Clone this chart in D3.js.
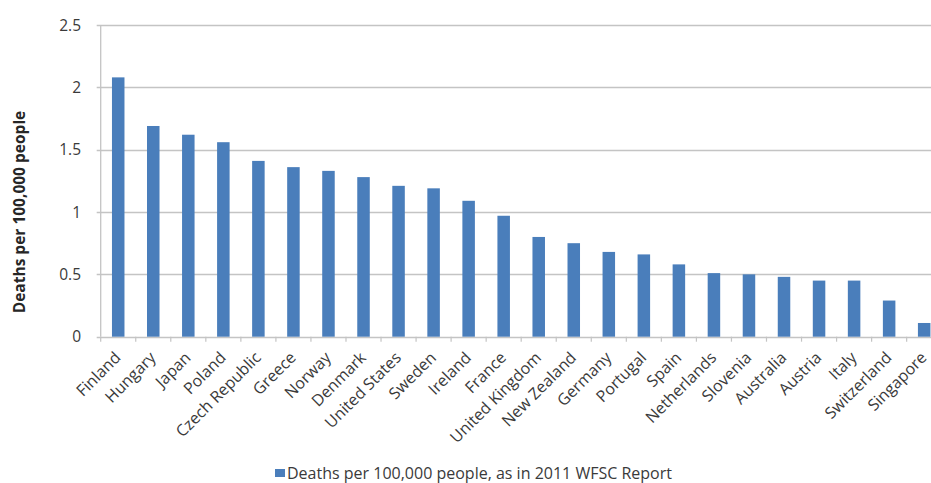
<!DOCTYPE html>
<html>
<head>
<meta charset="utf-8">
<script src="https://cdn.jsdelivr.net/npm/d3@7"></script>
<style>
  html, body { margin: 0; padding: 0; background: #fff; overflow: hidden; }
  svg { display: block; font-family: "Open Sans", Lato, sans-serif; }
</style>
</head>
<body>
<svg id="chart" width="931" height="483"></svg>
<script>
// Road deaths per 100,000 people by country
const countries = [
  "Finland", "Hungary", "Japan", "Poland", "Czech Republic", "Greece",
  "Norway", "Denmark", "United States", "Sweden", "Ireland", "France",
  "United Kingdom", "New Zealand", "Germany", "Portugal", "Spain",
  "Netherlands", "Slovenia", "Australia", "Austria", "Italy",
  "Switzerland", "Singapore"
];
const deaths = [
  2.08, 1.69, 1.62, 1.56, 1.41, 1.36,
  1.33, 1.28, 1.21, 1.19, 1.09, 0.97,
  0.80, 0.75, 0.68, 0.66, 0.58,
  0.51, 0.50, 0.48, 0.45, 0.45,
  0.29, 0.11
];
const yTicks = [0, 0.5, 1, 1.5, 2, 2.5];
const yTitle = "Deaths per 100,000 people";
const seriesName = "Deaths per 100,000 people, as in 2011 WFSC Report";

const svg = d3.select("#chart");
const plotLeft = 100.7, plotRight = 941.7, plotTop = 25, plotBottom = 336.7;
const textColor = "#3a3a3a";

const x = d3.scaleBand()
  .domain(countries)
  .range([plotLeft, plotRight])
  .paddingInner(0.643)
  .paddingOuter(0.3215);

const y = d3.scaleLinear().domain([0, 2.5]).range([plotBottom, plotTop]);

// horizontal gridlines with short ticks to the left of the axis
svg.append("g").selectAll("line")
  .data(yTicks)
  .join("line")
  .attr("x1", plotLeft - 4)
  .attr("x2", plotRight)
  .attr("y1", d => Math.round(y(d)) + 0.5)
  .attr("y2", d => Math.round(y(d)) + 0.5)
  .attr("stroke", "#c4c4c4")
  .attr("stroke-width", 1.3);

// y tick labels
svg.append("g").selectAll("text")
  .data(yTicks)
  .join("text")
  .attr("x", 81)
  .attr("y", d => y(d))
  .attr("dy", "0.36em")
  .attr("text-anchor", "end")
  .attr("font-size", 15.5)
  .attr("fill", textColor)
  .text(d => d3.format("~g")(d));

// vertical axis line
svg.append("line")
  .attr("x1", plotLeft).attr("x2", plotLeft)
  .attr("y1", plotTop).attr("y2", plotBottom)
  .attr("stroke", "#c4c4c4")
  .attr("stroke-width", 1.3);

// bars
svg.append("g").selectAll("rect")
  .data(countries)
  .join("rect")
  .attr("x", d => x(d))
  .attr("width", x.bandwidth())
  .attr("y", (d, i) => y(deaths[i]))
  .attr("height", (d, i) => y(0) - y(deaths[i]))
  .attr("fill", "#4a7ebb");

// category boundary tick marks below the axis
const step = x.step();
svg.append("g").selectAll("line")
  .data(d3.range(countries.length + 1))
  .join("line")
  .attr("x1", i => plotLeft + i * step)
  .attr("x2", i => plotLeft + i * step)
  .attr("y1", plotBottom)
  .attr("y2", plotBottom + 5)
  .attr("stroke", "#c4c4c4")
  .attr("stroke-width", 1.2);

// rotated category labels
svg.append("g").selectAll("text")
  .data(countries)
  .join("text")
  .attr("transform", d => `translate(${x(d) + x.bandwidth() / 2 + 3.5},${plotBottom + 22}) rotate(-45)`)
  .attr("text-anchor", "end")
  .attr("font-size", 16)
  .attr("fill", textColor)
  .text(d => d);

// y axis title
svg.append("text")
  .attr("transform", "translate(24.5,212) rotate(-90)")
  .attr("text-anchor", "middle")
  .attr("font-size", 15.5)
  .attr("font-weight", "bold")
  .attr("fill", "#262626")
  .text(yTitle);

// legend
const legend = svg.append("g").attr("transform", "translate(275,469)");
legend.append("rect")
  .attr("width", 10).attr("height", 8)
  .attr("fill", "#4a7ebb");
legend.append("text")
  .attr("x", 12)
  .attr("y", 9.5)
  .attr("font-size", 16)
  .attr("fill", textColor)
  .text(seriesName);
</script>
</body>
</html>
